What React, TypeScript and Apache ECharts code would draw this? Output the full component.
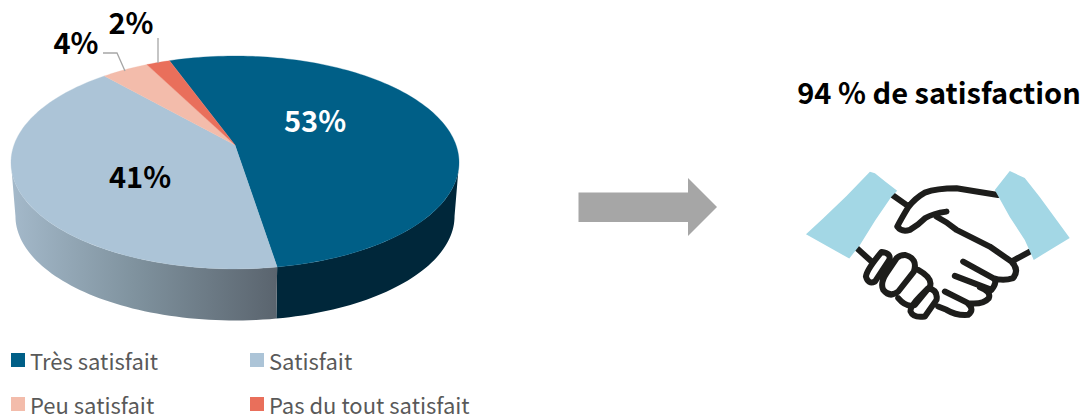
import React, { useEffect, useRef } from "react";
import * as echarts from "echarts";

const categories = ["Très satisfait", "Satisfait", "Peu satisfait", "Pas du tout satisfait"];
const values = [53, 41, 4, 2];
const labels = ["53%", "41%", "4%", "2%"];
const headline = "94 % de satisfaction";

const topColors = ["#005F87", "#ACC4D7", "#F3BCAB", "#E96F5B"];
const labelColors = ["#FFFFFF", "#000000", "#000000", "#000000"];
const labelAnchors = [[315, 119], [140, 175], [76, 41], [131, 21]];
const leaders: (number[][] | null)[] = [
  null,
  null,
  [[103, 53], [117, 53], [125, 71]],
  [[158, 38], [158, 63]],
];

const FONT = '"Noto Sans CJK SC", "Noto Sans", sans-serif';
const START_DEG = -20;
const APEX = { x: 235, y: 145 };
const SCALE_X = 221;
const SCALE_Y = 103.6;
const PERSPECTIVE = 0.164;
const DEPTH = 54;
const BASE_SCALE = 0.98;
const SILHOUETTE_DEG = 9.44;

// Projects a clockwise-from-top angle of the disc onto the tilted plane.
function project(deg: number, scale = 1, dy = 0): number[] {
  const a = (deg * Math.PI) / 180;
  const X = Math.sin(a);
  const Y = -Math.cos(a);
  const w = 1 - PERSPECTIVE * Y;
  return [APEX.x + (scale * SCALE_X * X) / w, APEX.y + dy + (scale * SCALE_Y * Y) / w];
}

function arc(from: number, to: number, scale = 1, dy = 0): number[][] {
  const steps = Math.max(2, Math.ceil(Math.abs(to - from) / 1.5));
  const pts: number[][] = [];
  for (let i = 0; i <= steps; i++) pts.push(project(from + ((to - from) * i) / steps, scale, dy));
  return pts;
}

const total = values.reduce((a, b) => a + b, 0);
const sweeps = values.map((v) => (v / total) * 360);
const starts = sweeps.map((_, i) => START_DEG + sweeps.slice(0, i).reduce((a, b) => a + b, 0));

const wallFills = [
  () => "#00273A",
  () =>
    new echarts.graphic.LinearGradient(
      14, 0, 277, 0,
      [
        { offset: 0, color: "#A3B8C9" },
        { offset: 0.45, color: "#80939F" },
        { offset: 1, color: "#5A646E" },
      ],
      true
    ),
];

function makeSeries(i: number) {
  return {
    type: "custom",
    name: categories[i],
    coordinateSystem: "none",
    silent: true,
    itemStyle: { color: topColors[i] },
    data: [values[i]],
    renderItem: (_p: any, api: any) => {
      const sweep = (api.value(0) / total) * 360;
      const a = starts[i];
      const b = a + sweep;
      const children: any[] = [];
      const wallFrom = Math.max(a, 90 + SILHOUETTE_DEG);
      const wallTo = Math.min(b, 270 - SILHOUETTE_DEG);
      if (wallTo > wallFrom && wallFills[i]) {
        children.push({
          type: "polygon",
          shape: {
            points: [...arc(wallFrom, wallTo), ...arc(wallTo, wallFrom, BASE_SCALE, DEPTH)],
          },
          style: { fill: wallFills[i](), stroke: null },
        });
      }
      children.push({
        type: "polygon",
        shape: { points: [[APEX.x, APEX.y], ...arc(a, b)] },
        style: { fill: topColors[i], stroke: topColors[i], lineWidth: 0.3 },
      });
      const leader = leaders[i];
      if (leader) {
        children.push({
          type: "polyline",
          shape: { points: leader },
          style: { stroke: "#A6A6A6", lineWidth: 1.3, fill: null },
        });
      }
      children.push({
        type: "text",
        x: labelAnchors[i][0],
        y: labelAnchors[i][1],
        z2: 10,
        style: {
          text: labels[i],
          fill: labelColors[i],
          font: `700 29px ${FONT}`,
          align: "center",
          verticalAlign: "middle",
        },
      });
      return { type: "group", children };
    },
  };
}

const handshakeCuffs =
  "M240,65 L255,70 Q285,95 322,122 L305,140 Q255,210 210,285 L178,326 L48,253 L100,205 Q170,140 240,65 Z " +
  "M615,120 L660,63 L705,84 L750,141 L840,264 L732,330 L705,270 L660,201 Z";

const handshakeLines =
  "M300,130 L357,170 " +
  "M625,135 Q560,125 500,115 Q440,115 405,128 Q375,145 355,172 Q335,205 322,230 Q335,248 360,240 Q385,225 405,205 Q430,190 470,185 " +
  "M440,200 Q470,215 500,240 L600,290 L665,335 Q690,360 670,385 Q640,395 610,385 L520,335 " +
  "M610,385 Q625,395 605,420 L495,378 " +
  "M570,412 Q605,425 597,445 Q580,465 535,460 L465,425 " +
  "M535,462 Q555,480 535,495 Q500,498 470,480 L445,470 " +
  "M665,335 L730,300 " +
  "M190,285 L245,335 " +
  "M275,306 Q305,310 298,330 L255,395 Q235,405 228,380 Q230,360 275,306 Z " +
  "M345,315 Q385,325 372,365 L325,425 Q300,445 280,420 Q270,400 290,370 L320,325 Q330,315 345,315 Z " +
  "M385,360 Q430,385 420,410 L375,465 Q350,475 325,445 " +
  "M415,415 Q445,420 440,450 L405,500 Q370,505 362,485 Q360,470 390,440 Z";

echarts.graphic.registerShape("handCuffs", echarts.graphic.extendPath(handshakeCuffs as any, {}) as any);
echarts.graphic.registerShape("handLines", echarts.graphic.extendPath(handshakeLines as any, {}) as any);

const legendText = { color: "#595959", fontFamily: FONT, fontSize: 22 };

export default function App() {
  const ref = useRef<HTMLDivElement>(null);
  useEffect(() => {
    const chart = echarts.init(ref.current!, null, { renderer: "svg" });
    chart.setOption({
      animation: false,
      legend: [
        {
          left: 11, top: 349, orient: "vertical",
          data: [categories[0], categories[2]],
          icon: "rect", itemWidth: 14, itemHeight: 14, itemGap: 22, selectedMode: false,
          padding: 0, textStyle: legendText,
        },
        {
          left: 250, top: 349, orient: "vertical",
          data: [categories[1], categories[3]],
          icon: "rect", itemWidth: 14, itemHeight: 14, itemGap: 22, selectedMode: false,
          padding: 0, textStyle: legendText,
        },
      ],
      series: values.map((_, i) => makeSeries(i)),
      graphic: [
        {
          type: "polygon",
          silent: true,
          shape: {
            points: [[578.5, 192.5], [688, 192.5], [688, 178], [717, 207], [688, 236], [688, 222], [578.5, 222]],
          },
          style: { fill: "#A6A6A6" },
        },
        {
          type: "text",
          silent: true,
          x: 939, y: 91,
          style: {
            text: headline, fill: "#000000",
            font: `700 29px ${FONT}`, align: "center", verticalAlign: "middle",
          },
        },
        {
          type: "group",
          silent: true,
          x: 790, y: 150, scaleX: 1 / 3, scaleY: 1 / 3,
          children: [
            {
              type: "handLines",
              style: { fill: "none", stroke: "#1D1D1B", lineWidth: 18, lineJoin: "round", lineCap: "round" },
            },
            { type: "handCuffs", style: { fill: "#A3D7E5" } },
          ],
        },
      ],
    });
    return () => chart.dispose();
  }, []);
  return <div ref={ref} style={{ position: "absolute", left: 0, top: 0, width: 1083, height: 418 }} />;
}
